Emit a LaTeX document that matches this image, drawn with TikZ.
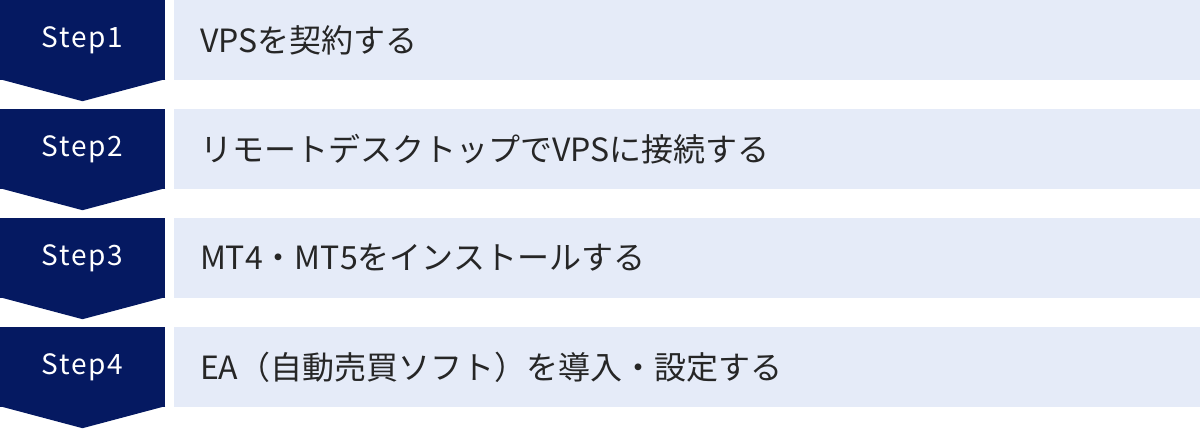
\documentclass[tikz,border=0pt]{standalone}
\usepackage{fontspec}
\setmainfont{Noto Sans CJK JP}
\usepackage{tikz}
\usetikzlibrary{calc}
\definecolor{stepnavy}{RGB}{5,25,97}
\definecolor{taskpale}{RGB}{229,235,248}

\tikzset{
  stepbox/.style={fill=stepnavy,text=white,minimum width=165pt,minimum height=80pt,inner sep=0pt,
    font=\fontsize{28}{28}\selectfont\addfontfeature{LetterSpace=6}},
  taskbox/.style={fill=taskpale,text=black!85,minimum width=1026pt,minimum height=80pt,
    inner xsep=26pt,inner ysep=0pt,text width=974pt,align=left,font=\fontsize{32}{32}\selectfont},
  steptip/.style={fill=stepnavy}
}

\begin{document}
\begin{tikzpicture}[x=1pt,y=-1pt]
\useasboundingbox (0,0) rectangle (1200,429);
% step 1
\node [stepbox] (step1) at (82.5,40) {Step1};
\fill [steptip] ($(step1.south west)+(0,-1)$)--($(step1.south)+(0,21)$)--($(step1.south east)+(0,-1)$)--cycle;
\node [taskbox] (task1) at (687,40) {VPSを契約する};
% step 2
\node [stepbox] (step2) at (82.5,149) {Step2};
\fill [steptip] ($(step2.south west)+(0,-1)$)--($(step2.south)+(0,21)$)--($(step2.south east)+(0,-1)$)--cycle;
\node [taskbox] (task2) at (687,149) {リモートデスクトップでVPSに接続する};
% step 3
\node [stepbox] (step3) at (82.5,258) {Step3};
\fill [steptip] ($(step3.south west)+(0,-1)$)--($(step3.south)+(0,21)$)--($(step3.south east)+(0,-1)$)--cycle;
\node [taskbox] (task3) at (687,258) {MT4・MT5をインストールする};
% step 4
\node [stepbox] (step4) at (82.5,367) {Step4};
\fill [steptip] ($(step4.south west)+(0,-1)$)--($(step4.south)+(0,21)$)--($(step4.south east)+(0,-1)$)--cycle;
\node [taskbox] (task4) at (687,367) {EA（自動売買ソフト）を導入・設定する};
\end{tikzpicture}
\end{document}
